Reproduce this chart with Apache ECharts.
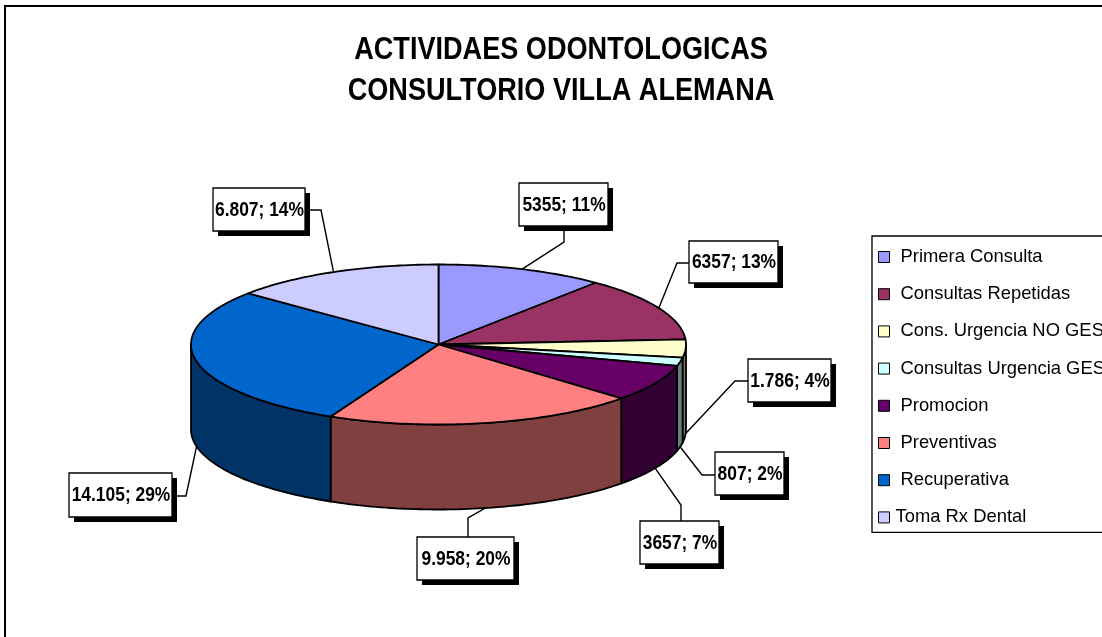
<!DOCTYPE html>
<html><head><meta charset="utf-8">
<style>html,body{margin:0;padding:0;background:#fff}#c{width:1102px;height:637px}</style>
<script src="https://cdn.jsdelivr.net/npm/echarts@6/dist/echarts.min.js"></script>
</head><body><div id="c"></div>
<script>
const titleText = 'ACTIVIDAES ODONTOLOGICAS\nCONSULTORIO VILLA ALEMANA';
const categories = ['Primera Consulta','Consultas Repetidas','Cons. Urgencia NO GES','Consultas Urgencia GES','Promocion','Preventivas','Recuperativa','Toma Rx Dental'];
const values = [5355,6357,1786,807,3657,9958,14105,6807];
const valueLabels = ['5355','6357','1.786','807','3657','9.958','14.105','6.807'];
const percents = ['11%','13%','4%','2%','7%','20%','29%','14%'];
const topColors = ['#9999FF','#993366','#FFFFCC','#CCFFFF','#660066','#FF8080','#0066CC','#CCCCFF'];
const wallColors = ['#4D4D80','#4D1A33','#808066','#668080','#330033','#804040','#003366','#666680'];

/* Layout of the tilted pie */
const CX = 438.5, CY = 344.5, RX = 247.5, RY = 80, DEPTH = 85;
const FONT = '"Liberation Sans",Arial,sans-serif';
/* Label boxes [x, y, w, h] and the leader's box-side points */
const boxes = [[519,183,89,43],[689,241,89,42],[748,359,83,43],[715,452,69,43],[640,521,79,43],[417,537,97,43],[69,473,103,44],[213,188,92,43]];
const leaderStarts = [[[564,226],[564,242]],[[689,263],[677,263]],[[748,381],[735,381]],[[715,475],[702,475]],[[681,521],[681,505]],[[468,537],[468,518]],[[172,496],[186,496]],[[305,210],[321,210]]];

const total = values.reduce((a,b)=>a+b,0);
function rim(theta, dy){ return [CX + RX*Math.sin(theta), CY - RY*Math.cos(theta) + (dy||0)]; }
function arc(a, b, dy){
  const n = Math.max(2, Math.ceil(Math.abs(b-a)/0.02)), pts = [];
  for (let k=0;k<=n;k++) pts.push(rim(a+(b-a)*k/n, dy));
  return pts;
}
const STROKE = {stroke:'#000', lineWidth:1.8, lineJoin:'round'};

function renderSlice(i){
  return function(params, api){
    const before = values.slice(0,i).reduce((a,b)=>a+b,0);
    const a0 = before/total*2*Math.PI;
    const a1 = a0 + api.value(0)/total*2*Math.PI;
    const mid = (a0+a1)/2;
    const children = [];
    // front wall
    const w0 = Math.max(a0, Math.PI/2), w1 = Math.min(a1, 1.5*Math.PI);
    if (w1 > w0){
      const pts = arc(w0,w1,0).concat(arc(w1,w0,DEPTH));
      children.push({type:'polygon', z2:1, shape:{points:pts}, style:Object.assign({fill:wallColors[i]},STROKE)});
    }
    // top face
    children.push({type:'polygon', z2:2, shape:{points:[[CX,CY]].concat(arc(a0,a1,0))}, style:Object.assign({fill:topColors[i]},STROKE)});
    // leader line, anchored on the slice's mid angle
    const anchor = rim(mid, Math.cos(mid) < 0 ? DEPTH : 0);
    children.push({type:'polyline', z2:3, shape:{points:leaderStarts[i].concat([anchor])}, style:{stroke:'#000', lineWidth:1.4, fill:null}});
    // label box with hard shadow
    const [x,y,w,h] = boxes[i];
    children.push({type:'rect', z2:4, shape:{x:x+5,y:y+5,width:w,height:h}, style:{fill:'#000'}});
    children.push({type:'rect', z2:5, shape:{x:x,y:y,width:w,height:h}, style:{fill:'#fff',stroke:'#000',lineWidth:1.3}});
    children.push({type:'text', z2:6, x:x+w/2+0.5, y:y+h/2+0.5, scaleX:0.87,
      style:{x:0,y:0,text:valueLabels[i]+'; '+percents[i],align:'center',verticalAlign:'middle',
      font:'bold 20px '+FONT, fill:'#000'}});
    return {type:'group', children};
  };
}

const chart = echarts.init(document.getElementById('c'), null, {renderer:'canvas'});
chart.setOption({
  animation:false,
  backgroundColor:'#fff',
  graphic:[
    {type:'rect', silent:true, z:-1, shape:{x:5,y:6,width:1200,height:700}, style:{fill:'#fff',stroke:'#000',lineWidth:2}},
    {type:'text', silent:true, z:5, x:561, y:71, scaleX:0.847,
      style:{x:0,y:0,text:titleText, align:'center', verticalAlign:'middle', font:'bold 32px '+FONT, lineHeight:41, fill:'#000'}}
  ],
  legend:{orient:'vertical', left:872, top:236, padding:[11,24,5,6], itemGap:17.2, itemWidth:11, itemHeight:11,
    icon:'rect', selectedMode:false, borderColor:'#000', borderWidth:1.3, backgroundColor:'#fff',
    data:categories.map((name,i)=> i===categories.length-1 ? {name, textStyle:{padding:[0,0,0,1]}} : {name}),
    itemStyle:{borderColor:'#000', borderWidth:1},
    textStyle:{fontFamily:FONT, fontSize:18.4, lineHeight:20, color:'#000', padding:[0,0,0,6]}},
  series:categories.map((name,i)=>({
    type:'custom', name, coordinateSystem:'none', silent:true,
    itemStyle:{color:topColors[i]},
    data:[[values[i]]], renderItem:renderSlice(i)
  }))
});
</script></body></html>
